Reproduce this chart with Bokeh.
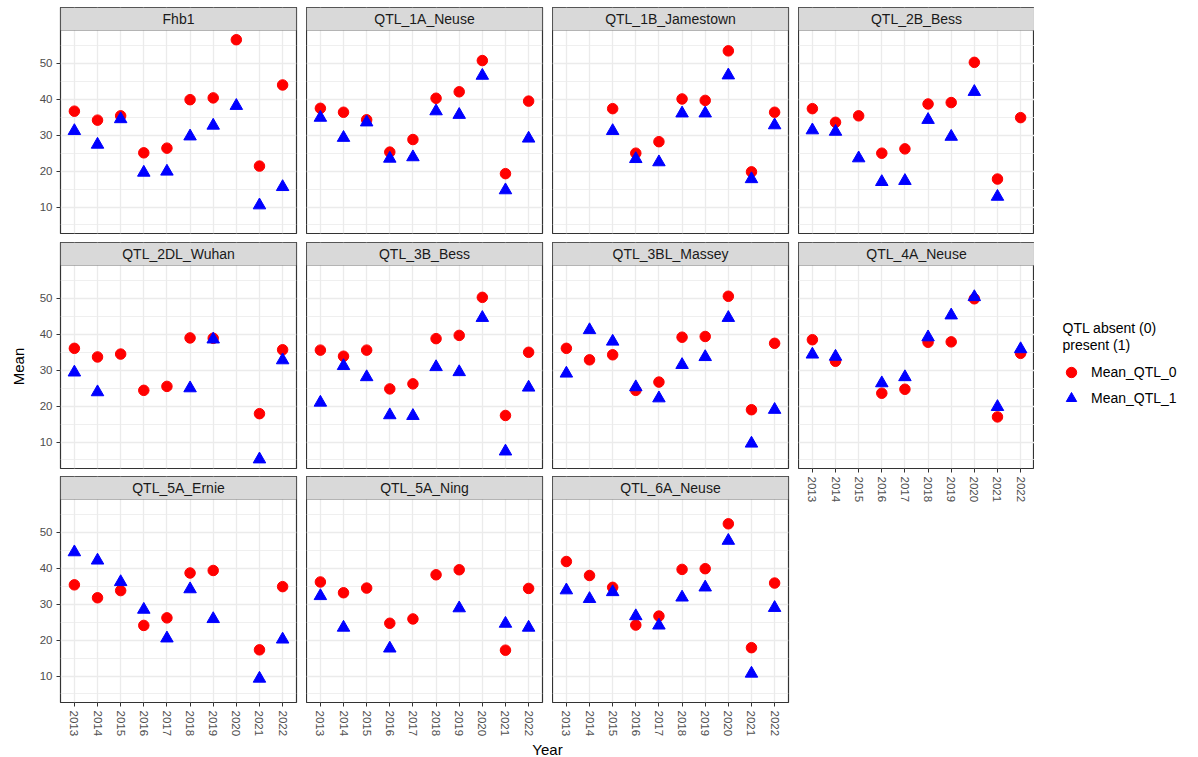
import numpy as np
from bokeh.plotting import figure
from bokeh.models import (Range1d, FixedTicker, LinearAxis, Grid, BoxAnnotation,
                          Label, Legend, LegendItem, ColumnDataSource)
from bokeh.layouts import row, column
from bokeh.embed import file_html
from bokeh.resources import INLINE
from bokeh.core.properties import value

# ---------------- data ----------------
years = [2013, 2014, 2015, 2016, 2017, 2018, 2019, 2020, 2021, 2022]
year_labels = ["2013", "2014", "2015", "2016", "2017", "2018", "2019", "2020", "2021", "2022"]
y_ticks = [10, 20, 30, 40, 50]
y_minor_ticks = [5, 15, 25, 35, 45, 55]
series_names = ["Mean_QTL_0", "Mean_QTL_1"]
legend_title = ["QTL absent (0)", " present (1)"]
x_title = "Year"
y_title = "Mean"

N = None
fhb1_q0 = [36.7, 34.2, 35.4, 25.1, 26.4, 39.9, 40.4, 56.6, 21.4, 44.0]
fhb1_q1 = [31.2, 27.4, 34.5, 19.6, 19.9, 29.7, 32.7, 38.2, 10.5, 15.6]
qtl1a_q0 = [37.5, 36.4, 34.3, 25.3, 28.8, 40.3, 42.1, 50.8, 19.3, 39.5]
qtl1a_q1 = [34.9, 29.3, 33.6, 23.5, 23.9, 36.7, 35.7, 46.6, 14.7, 29.1]
qtl1b_q0 = [N, N, 37.4, 25.0, 28.2, 40.1, 39.7, 53.5, 19.8, 36.4]
qtl1b_q1 = [N, N, 31.2, 23.4, 22.5, 36.1, 36.1, 46.7, 17.8, 32.8]
qtl2b_q0 = [37.4, 33.6, 35.4, 25.0, 26.2, 38.7, 39.1, 50.3, 17.8, 34.9]
qtl2b_q1 = [31.4, 31.0, 23.6, 17.0, 17.3, 34.3, 29.6, 42.1, 12.9, N]
qtl2dl_q0 = [36.1, 33.7, 34.5, 24.4, 25.5, 39.0, 38.9, N, 17.9, 35.7]
qtl2dl_q1 = [29.4, 23.9, N, N, N, 25.0, 38.6, N, 5.2, 32.8]
qtl3b_q0 = [35.6, 33.9, 35.6, 24.8, 26.2, 38.8, 39.7, 50.3, 17.4, 35.0]
qtl3b_q1 = [21.0, 31.2, 28.1, 17.5, 17.3, 30.9, 29.5, 44.6, 7.4, 25.2]
qtl3bl_q0 = [36.1, 32.9, 34.3, 24.4, 26.7, 39.2, 39.4, 50.6, 19.0, 37.5]
qtl3bl_q1 = [29.1, 41.2, 38.0, 25.3, 22.2, 31.5, 33.7, 44.6, 9.6, 19.0]
qtl4a_q0 = [38.5, 32.5, N, 23.6, 24.7, 37.8, 37.9, 49.9, 17.0, 34.7]
qtl4a_q1 = [34.4, 33.8, N, 26.4, 28.1, 39.2, 45.3, 50.4, 19.8, 35.9]
qtl5ae_q0 = [35.4, 31.8, 33.8, 24.1, 26.2, 38.7, 39.4, N, 17.3, 34.9]
qtl5ae_q1 = [44.5, 42.2, 36.2, 28.5, 20.5, 34.2, 25.9, N, 9.3, 20.2]
qtl5an_q0 = [36.2, 33.2, 34.5, 24.7, 25.9, 38.2, 39.6, N, 17.2, 34.4]
qtl5an_q1 = [32.3, 23.5, N, 17.7, N, N, 28.9, N, 24.6, 23.5]
qtl6a_q0 = [41.9, 38.0, 34.7, 24.2, 26.7, 39.7, 39.9, 52.4, 17.9, 35.9]
qtl6a_q1 = [33.9, 31.5, 33.4, 26.7, 24.1, 31.9, 34.7, 47.7, 10.7, 29.0]

panel_names = ["Fhb1", "QTL_1A_Neuse", "QTL_1B_Jamestown", "QTL_2B_Bess",
               "QTL_2DL_Wuhan", "QTL_3B_Bess", "QTL_3BL_Massey", "QTL_4A_Neuse",
               "QTL_5A_Ernie", "QTL_5A_Ning", "QTL_6A_Neuse"]
panel_q0 = [fhb1_q0, qtl1a_q0, qtl1b_q0, qtl2b_q0, qtl2dl_q0, qtl3b_q0,
            qtl3bl_q0, qtl4a_q0, qtl5ae_q0, qtl5an_q0, qtl6a_q0]
panel_q1 = [fhb1_q1, qtl1a_q1, qtl1b_q1, qtl2b_q1, qtl2dl_q1, qtl3b_q1,
            qtl3bl_q1, qtl4a_q1, qtl5ae_q1, qtl5an_q1, qtl6a_q1]

# ---------------- styling ----------------
FONT = "Liberation Sans"
C0, C1 = "red", "blue"
GRID_C = "#EBEBEB"
DARK = "#333333"
SIZE0, SIZE1 = 10.5, 12.5

all_vals = np.array(sum(panel_q0, []) + sum(panel_q1, []), dtype=float)
lo, hi = np.nanmin(all_vals), np.nanmax(all_vals)
pad = 0.05 * (hi - lo)
Y0, Y1 = lo - pad, hi + pad
X0, X1 = years[0] - 0.6, years[-1] + 0.6

TOP = 7
FRAME_W = 236
PANEL_H = 203
STRIP_H = 23
Y_TOP = Y1 + STRIP_H * (Y1 - Y0) / PANEL_H
MEAN_W = 28
LEFT_W = 32
GAP_X = 10
GAP_Y1, GAP_Y2 = 9, 8
BOTTOM_AX = 35
YEAR_H = 19


def make_panel(i, left_axis, bottom_axis, right_gap, top_gap, bottom_gap):
    p = figure(frame_width=FRAME_W, frame_height=PANEL_H + STRIP_H,
               x_range=Range1d(X0, X1), y_range=Range1d(Y0, Y_TOP),
               x_axis_location=None, y_axis_location=None,
               toolbar_location=None, output_backend="svg",
               min_border_left=LEFT_W if left_axis else 0,
               min_border_right=right_gap, min_border_top=top_gap,
               min_border_bottom=bottom_gap)
    p.center = [r for r in p.center if not isinstance(r, Grid)]
    p.background_fill_color = "white"
    p.border_fill_color = "white"
    p.outline_line_color = DARK
    p.outline_line_width = 1.2

    xg = Grid(dimension=0, ticker=FixedTicker(ticks=years),
              grid_line_color=GRID_C, grid_line_width=1.3)
    yg = Grid(dimension=1, ticker=FixedTicker(ticks=y_ticks, minor_ticks=y_minor_ticks),
              grid_line_color=GRID_C, grid_line_width=1.3,
              minor_grid_line_color=GRID_C, minor_grid_line_width=0.8)
    p.add_layout(xg, "center")
    p.add_layout(yg, "center")

    s0 = ColumnDataSource(dict(x=years, y=np.array(panel_q0[i], dtype=float)))
    s1 = ColumnDataSource(dict(x=years, y=np.array(panel_q1[i], dtype=float)))
    p.scatter("x", "y", source=s0, marker="circle", size=SIZE0,
              fill_color=C0, line_color=C0)
    p.scatter("x", "y", source=s1, marker="triangle", size=SIZE1,
              fill_color=C1, line_color=C1)

    strip = BoxAnnotation(bottom=Y1, top=Y_TOP, fill_color="#D9D9D9", fill_alpha=1.0,
                          line_color=DARK, line_width=1.2)
    p.add_layout(strip)
    p.add_layout(Label(x=(X0 + X1) / 2, y=(Y1 + Y_TOP) / 2, text=panel_names[i],
                       text_align="center", text_baseline="middle",
                       text_font=FONT, text_font_size="14px", text_color="#1A1A1A"))

    common = dict(axis_line_color=None, major_tick_line_color=DARK,
                  major_tick_out=4, major_tick_in=0, minor_tick_line_color=None,
                  major_label_text_font=FONT, major_label_text_font_size="11.5px",
                  major_label_text_color="#4D4D4D", major_label_standoff=4)
    if left_axis:
        p.add_layout(LinearAxis(ticker=FixedTicker(ticks=y_ticks), **common), "left")
    if bottom_axis:
        p.add_layout(LinearAxis(ticker=FixedTicker(ticks=years),
                                major_label_overrides={y: l for y, l in zip(years, year_labels)},
                                major_label_orientation="vertical", **common), "below")
    return p


layout_spec = [
    # (left_axis, bottom_axis, right_gap, top_gap, bottom_gap)
    (True, False, GAP_X, TOP, GAP_Y1), (False, False, GAP_X, TOP, GAP_Y1),
    (False, False, GAP_X, TOP, GAP_Y1), (False, False, 0, TOP, GAP_Y1),
    (True, False, GAP_X, 0, GAP_Y2), (False, False, GAP_X, 0, GAP_Y2),
    (False, False, GAP_X, 0, GAP_Y2), (False, True, 0, 0, BOTTOM_AX),
    (True, True, GAP_X, 0, BOTTOM_AX), (False, True, GAP_X, 0, BOTTOM_AX),
    (False, True, GAP_X, 0, BOTTOM_AX),
]
f = [make_panel(i, *spec) for i, spec in enumerate(layout_spec)]

grid = row(column(f[0], f[4], f[8]), column(f[1], f[5], f[9]),
           column(f[2], f[6], f[10]), column(f[3], f[7]))

GRID_W = (LEFT_W + FRAME_W + GAP_X) + 2 * (FRAME_W + GAP_X) + FRAME_W
TOTAL_H = TOP + 3 * (PANEL_H + STRIP_H) + GAP_Y1 + GAP_Y2 + BOTTOM_AX + YEAR_H


def blank(w, h, xr, yr):
    b = figure(width=w, height=h, x_range=xr, y_range=yr,
               x_axis_location=None, y_axis_location=None,
               toolbar_location=None, output_backend="svg", min_border=0)
    b.center = [r for r in b.center if not isinstance(r, Grid)]
    b.outline_line_color = None
    b.background_fill_color = "white"
    b.border_fill_color = "white"
    return b


# x-axis title, centred across the panel area
yf = blank(GRID_W, YEAR_H, Range1d(0, GRID_W), Range1d(YEAR_H, 0))
yf.text(x=[LEFT_W + (4 * FRAME_W + 3 * GAP_X) / 2], y=[YEAR_H / 2], text=[x_title],
        text_align="center", text_baseline="middle", text_font=value(FONT),
        text_font_size="15px", text_color="black")

# y-axis title, centred on the panel area
mf = blank(MEAN_W, TOTAL_H, Range1d(0, MEAN_W), Range1d(TOTAL_H, 0))
panels_top = TOP + STRIP_H
panels_bot = TOP + 3 * (PANEL_H + STRIP_H) + GAP_Y1 + GAP_Y2
mf.text(x=[18], y=[(panels_top + panels_bot) / 2], text=[y_title], angle=np.pi / 2,
        text_align="center", text_baseline="middle", text_font=value(FONT),
        text_font_size="15px", text_color="black")

# legend
LEG_W = 1196 - MEAN_W - GRID_W
lf = blank(LEG_W, TOTAL_H, Range1d(0, LEG_W), Range1d(TOTAL_H, 0))
lf.text(x=[28, 28], y=[327, 344], text=legend_title,
        text_align="left", text_baseline="middle", text_font=value(FONT),
        text_font_size="14px", text_color="black")
nan_src = ColumnDataSource(dict(x=[np.nan], y=[np.nan]))
r0 = lf.scatter("x", "y", source=nan_src, marker="circle", size=SIZE0,
                fill_color=C0, line_color=C0)
r1 = lf.scatter("x", "y", source=nan_src, marker="triangle", size=SIZE1,
                fill_color=C1, line_color=C1)
leg = Legend(items=[LegendItem(label=series_names[0], renderers=[r0]),
                    LegendItem(label=series_names[1], renderers=[r1])],
             location=(24, TOTAL_H - 411), padding=0, margin=0, spacing=0,
             glyph_width=26, glyph_height=26, label_standoff=7,
             label_text_font=FONT, label_text_font_size="14px", label_text_color="black",
             label_text_baseline="middle",
             border_line_color=None, background_fill_alpha=0.0)
lf.add_layout(leg)

page = row(mf, column(grid, yf), lf)

open("out.html", "w").write(file_html(page, INLINE))
